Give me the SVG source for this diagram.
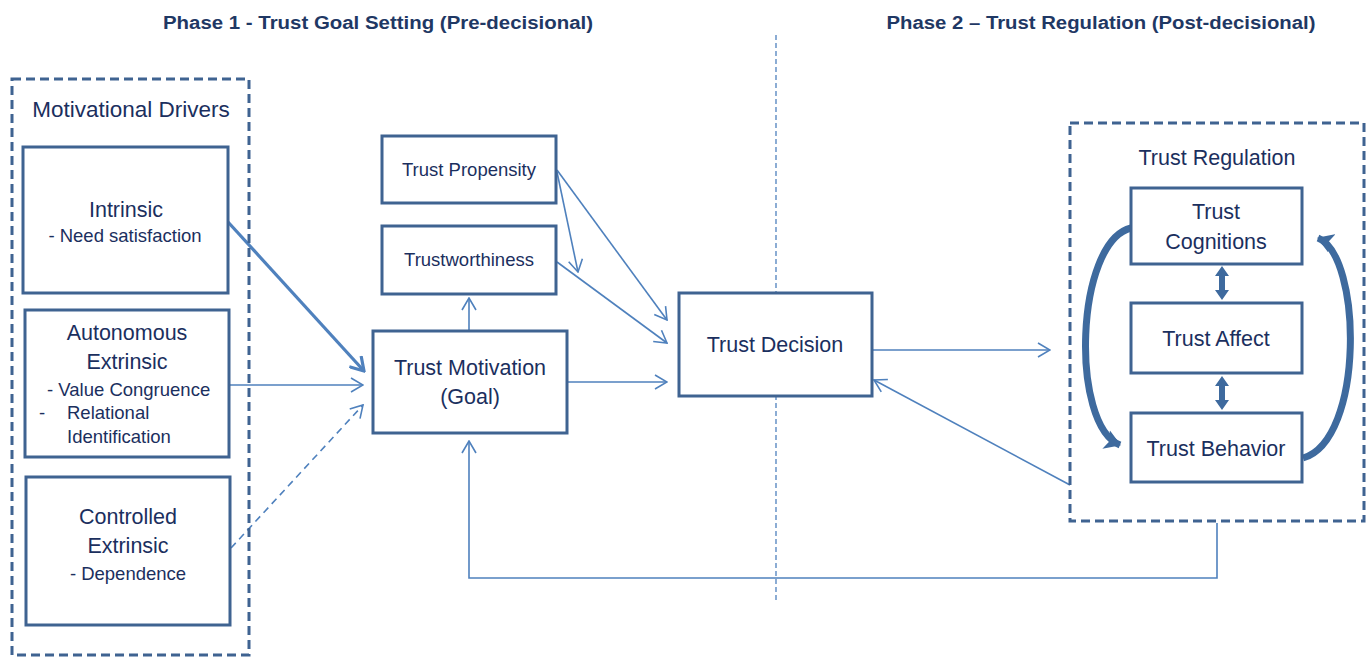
<svg xmlns="http://www.w3.org/2000/svg" width="1371" height="657" viewBox="0 0 1371 657">
  <style>
    .box { fill: #ffffff; stroke: #3F6391; stroke-width: 3; }
    .group { fill: none; stroke: #3F6391; stroke-width: 3; stroke-dasharray: 9 5; }
    .t { font-family: "Liberation Sans", Arial, sans-serif; fill: #1B2F5E; }
    .lg { font-size: 21.5px; }
    .md { font-size: 18.5px; }
    .head { font-family: "Liberation Sans", Arial, sans-serif; font-weight: bold; font-size: 18px; fill: #1F3864; }
    .conn { fill: none; stroke: #4F81BD; stroke-width: 1.6; }
    .thick { stroke-width: 3.2; }
    .dash { stroke-dasharray: 7 5; }
    .phase { fill: none; stroke: #4F81BD; stroke-width: 1.3; stroke-dasharray: 5 3; }
    .loop { fill: none; stroke: #3E6A9E; stroke-width: 7; }
    .block { fill: #3E6A9E; }
  </style>
  <defs>
    <marker id="open" viewBox="0 0 14 16" refX="13" refY="8" markerWidth="14" markerHeight="16" markerUnits="userSpaceOnUse" orient="auto">
      <path d="M1,1 L13,8 L1,15" fill="none" stroke="#4F81BD" stroke-width="1.6"/>
    </marker>
    <marker id="openThick" viewBox="0 0 16 18" refX="14" refY="9" markerWidth="16" markerHeight="18" markerUnits="userSpaceOnUse" orient="auto">
      <path d="M1,1 L14,9 L1,17" fill="none" stroke="#4F81BD" stroke-width="3.2"/>
    </marker>
    <marker id="flare" viewBox="0 0 16 20" refX="15" refY="10" markerWidth="16" markerHeight="20" markerUnits="userSpaceOnUse" orient="auto">
      <path d="M0,0 L16,10 L0,20 L4,10 Z" fill="#3E6A9E"/>
    </marker>
  </defs>

  <!-- phase headings -->
  <text class="head" x="378" y="29" text-anchor="middle" textLength="430" lengthAdjust="spacingAndGlyphs">Phase 1 - Trust Goal Setting (Pre-decisional)</text>
  <text class="head" x="1101" y="29" text-anchor="middle" textLength="429" lengthAdjust="spacingAndGlyphs">Phase 2 – Trust Regulation (Post-decisional)</text>

  <!-- phase divider -->
  <line class="phase" x1="776" y1="35" x2="776" y2="600"/>

  <!-- connectors -->
  <g id="connectors">
    <line class="conn thick" x1="228" y1="222" x2="364" y2="371" marker-end="url(#openThick)"/>
    <line class="conn" x1="229" y1="385" x2="363" y2="385" marker-end="url(#open)"/>
    <line class="conn dash" x1="231" y1="548" x2="363" y2="405" marker-end="url(#open)"/>
    <line class="conn" x1="469" y1="331" x2="469" y2="298" marker-end="url(#open)"/>
    <line class="conn" x1="557" y1="172" x2="578" y2="272" marker-end="url(#open)"/>
    <line class="conn" x1="557" y1="170" x2="667" y2="320" marker-end="url(#open)"/>
    <line class="conn" x1="557" y1="262" x2="667" y2="343" marker-end="url(#open)"/>
    <line class="conn" x1="567" y1="382" x2="667" y2="382" marker-end="url(#open)"/>
    <line class="conn" x1="872" y1="350" x2="1050" y2="350" marker-end="url(#open)"/>
    <line class="conn" x1="1070" y1="485" x2="874" y2="380" marker-end="url(#open)"/>
    <polyline class="conn" points="1217,523 1217,578 469,578 469,441" marker-end="url(#open)"/>
  </g>

  <!-- motivational drivers -->
  <g id="drivers">
    <rect class="group" x="12" y="79" width="237" height="576"/>
    <text class="t" x="131" y="117" text-anchor="middle" font-size="22.5">Motivational Drivers</text>
  </g>
  <g id="intrinsic">
    <rect class="box" x="23" y="147" width="205" height="146"/>
    <text class="t lg" x="126" y="217" text-anchor="middle">Intrinsic</text>
    <text class="t md" x="125" y="242" text-anchor="middle">- Need satisfaction</text>
  </g>
  <g id="autonomous">
    <rect class="box" x="25" y="310" width="204" height="147"/>
    <text class="t lg" x="127" y="340" text-anchor="middle">Autonomous</text>
    <text class="t lg" x="127" y="369" text-anchor="middle">Extrinsic</text>
    <text class="t md" x="47" y="396">- Value Congruence</text>
    <text class="t md" x="39" y="419">-</text>
    <text class="t md" x="67" y="419">Relational</text>
    <text class="t md" x="67" y="443">Identification</text>
  </g>
  <g id="controlled">
    <rect class="box" x="26" y="477" width="204" height="148"/>
    <text class="t lg" x="128" y="524" text-anchor="middle">Controlled</text>
    <text class="t lg" x="128" y="553" text-anchor="middle">Extrinsic</text>
    <text class="t md" x="128" y="580" text-anchor="middle">- Dependence</text>
  </g>

  <!-- antecedents and goal -->
  <g id="propensity">
    <rect class="box" x="382" y="136" width="174" height="67"/>
    <text class="t md" x="469" y="176" text-anchor="middle">Trust Propensity</text>
  </g>
  <g id="trustworthiness">
    <rect class="box" x="382" y="226" width="174" height="68"/>
    <text class="t md" x="469" y="266" text-anchor="middle">Trustworthiness</text>
  </g>
  <g id="motivation">
    <rect class="box" x="373" y="331" width="194" height="102"/>
    <text class="t lg" x="470" y="375" text-anchor="middle">Trust Motivation</text>
    <text class="t lg" x="470" y="404" text-anchor="middle">(Goal)</text>
  </g>
  <g id="decision">
    <rect class="box" x="679" y="293" width="193" height="103"/>
    <text class="t lg" x="775" y="352" text-anchor="middle">Trust Decision</text>
  </g>

  <!-- trust regulation -->
  <g id="regulation">
    <rect class="group" x="1070" y="123" width="294" height="398"/>
    <text class="t" x="1217" y="165" text-anchor="middle" font-size="21.5">Trust Regulation</text>
    <!-- circular block arrows -->
    <path class="loop" d="M1131,228 C1075,242 1070,425 1120,445" marker-end="url(#flare)"/>
    <path class="loop" d="M1303,458 C1365,440 1362,255 1318,238" marker-end="url(#flare)"/>
    <!-- two-way links -->
    <path class="block" d="M1222,266 L1229,276 L1225,276 L1225,290 L1229,290 L1222,300 L1215,290 L1219,290 L1219,276 L1215,276 Z"/>
    <path class="block" d="M1222,376 L1229,386 L1225,386 L1225,400 L1229,400 L1222,410 L1215,400 L1219,400 L1219,386 L1215,386 Z"/>
  </g>
  <g id="cognitions">
    <rect class="box" x="1131" y="188" width="171" height="76"/>
    <text class="t lg" x="1216" y="219" text-anchor="middle">Trust</text>
    <text class="t lg" x="1216" y="249" text-anchor="middle">Cognitions</text>
  </g>
  <g id="affect">
    <rect class="box" x="1131" y="303" width="171" height="70"/>
    <text class="t lg" x="1216" y="346" text-anchor="middle">Trust Affect</text>
  </g>
  <g id="behavior">
    <rect class="box" x="1131" y="413" width="171" height="69"/>
    <text class="t lg" x="1216" y="456" text-anchor="middle">Trust Behavior</text>
  </g>
</svg>
